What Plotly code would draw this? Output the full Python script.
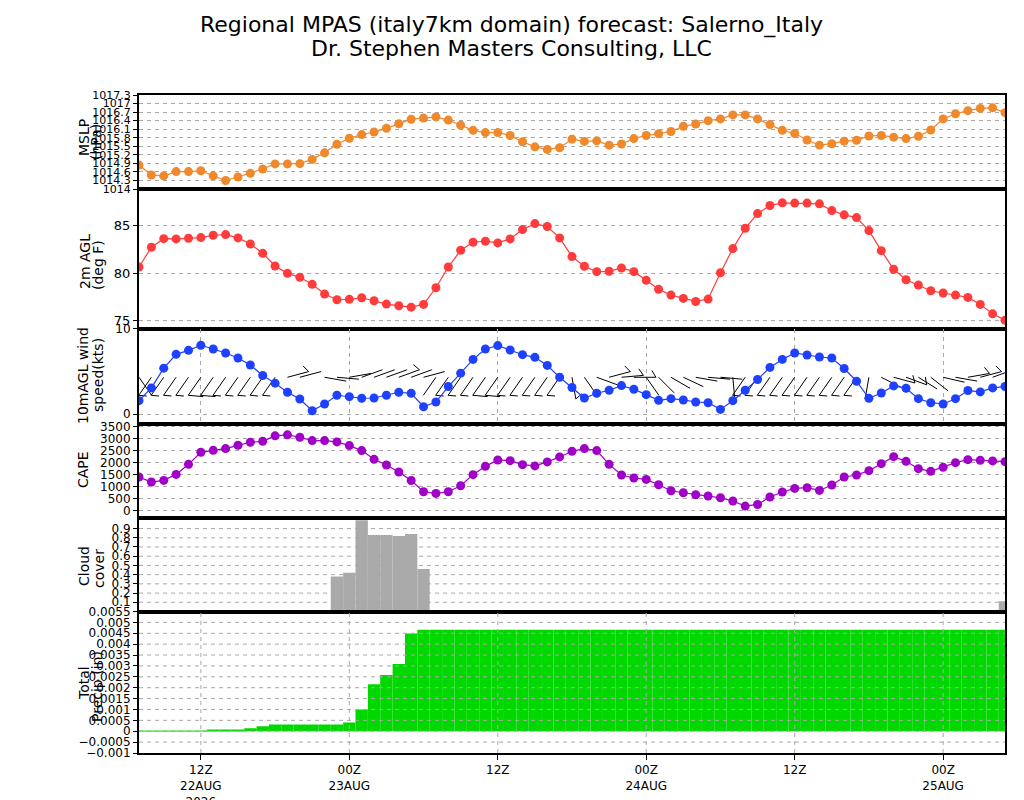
import math
import plotly.graph_objects as go

# ---------------- data (hours since 07Z 22AUG2026) ----------------
hours = list(range(71))

mslp = [1014.84, 1014.49, 1014.46, 1014.61, 1014.61, 1014.64, 1014.46, 1014.30, 1014.42, 1014.55,
        1014.70, 1014.88, 1014.88, 1014.89, 1015.04, 1015.27, 1015.57, 1015.78, 1015.91, 1016.00,
        1016.13, 1016.29, 1016.45, 1016.49, 1016.53, 1016.42, 1016.24, 1016.06, 1015.98, 1015.98,
        1015.88, 1015.66, 1015.48, 1015.39, 1015.45, 1015.75, 1015.67, 1015.69, 1015.54, 1015.58,
        1015.77, 1015.88, 1015.94, 1016.02, 1016.20, 1016.28, 1016.40, 1016.46, 1016.60, 1016.60,
        1016.46, 1016.26, 1016.06, 1015.95, 1015.72, 1015.54, 1015.59, 1015.68, 1015.71, 1015.86,
        1015.88, 1015.82, 1015.77, 1015.85, 1016.07, 1016.46, 1016.64, 1016.75, 1016.83, 1016.85,
        1016.68]

temp = [80.65, 82.74, 83.65, 83.62, 83.69, 83.76, 84.01, 84.08, 83.73, 83.09,
        82.10, 80.76, 79.98, 79.56, 78.82, 77.79, 77.19, 77.23, 77.40, 77.08,
        76.73, 76.55, 76.41, 76.70, 78.46, 80.65, 82.42, 83.27, 83.38, 83.20,
        83.62, 84.61, 85.24, 84.93, 83.73, 81.75, 80.73, 80.16, 80.20, 80.55,
        80.16, 79.24, 78.29, 77.68, 77.33, 77.01, 77.26, 80.05, 82.60, 84.75,
        86.30, 87.15, 87.44, 87.41, 87.41, 87.33, 86.62, 86.17, 85.88, 84.50,
        82.38, 80.41, 79.31, 78.74, 78.14, 77.90, 77.68, 77.44, 76.70, 75.70,
        75.03]

wspd = [1.57, 3.06, 5.37, 6.98, 7.45, 8.04, 7.61, 7.14, 6.55, 5.73,
        4.51, 3.61, 2.55, 1.76, 0.39, 1.18, 2.20, 2.04, 1.85, 1.88,
        2.20, 2.55, 2.43, 0.86, 1.41, 3.22, 4.78, 6.39, 7.61, 8.00,
        7.49, 6.94, 6.63, 5.69, 4.31, 3.10, 1.88, 2.43, 2.78, 3.33,
        2.90, 2.27, 1.61, 1.80, 1.65, 1.41, 1.33, 0.55, 1.57, 2.78,
        4.04, 5.45, 6.39, 7.14, 6.90, 6.67, 6.55, 5.33, 3.84, 1.84,
        2.47, 3.29, 3.02, 1.80, 1.33, 1.18, 1.80, 2.75, 2.59, 3.06,
        3.22]

wdir = [145, 215, 215, 215, 215, 215, 215, 215, 215, 215,
        215, 215, 75, 75, 80, 100, 95, 80, 70, 70,
        70, 70, 70, 75, 215, 215, 215, 215, 215, 215,
        215, 215, 215, 215, 215, 170, 145, 110, 75, 85,
        90, 145, 135, 120, 115, 100, 95, 95, 175, 215,
        215, 215, 215, 215, 215, 215, 215, 215, 215, 190,
        117, 105, 110, 122, 128, 103, 100, 80, 75, 70,
        70]

cape = [1409, 1200, 1268, 1518, 1937, 2439, 2522, 2593, 2731, 2857,
        2898, 3124, 3166, 3066, 2928, 2928, 2873, 2718, 2509, 2146,
        1911, 1618, 1262, 795, 724, 795, 1046, 1506, 1853, 2120,
        2091, 1924, 1870, 2037, 2246, 2480, 2593, 2509, 1937, 1493,
        1368, 1309, 1087, 836, 753, 669, 615, 544, 406, 197,
        264, 573, 782, 933, 962, 849, 1075, 1409, 1493, 1673,
        1966, 2258, 2062, 1757, 1644, 1811, 2008, 2133, 2104, 2079,
        2049]

cloud = [0, 0, 0, 0, 0, 0, 0, 0, 0, 0,
         0, 0, 0, 0, 0, 0, 0.38, 0.42, 0.99, 0.83,
         0.83, 0.82, 0.84, 0.46, 0, 0, 0, 0, 0, 0,
         0, 0, 0, 0, 0, 0, 0, 0, 0, 0,
         0, 0, 0, 0, 0, 0, 0, 0, 0, 0,
         0, 0, 0, 0, 0, 0, 0, 0, 0, 0,
         0, 0, 0, 0, 0, 0, 0, 0, 0, 0.01,
         0.11]

precip = [0.00003, 0.00003, 0.00003, 0.00003, 0.00003, 0.00003, 0.00008, 0.00008, 0.00008, 0.00014,
          0.00023, 0.00031, 0.00031, 0.00031, 0.00031, 0.00031, 0.00031, 0.0004, 0.001, 0.00216,
          0.00258, 0.00309, 0.00449] + [0.00466] * 48

tick_hours = [5, 17, 29, 41, 53, 65]
tick_text = ["12Z<br>22AUG<br>2026", "00Z<br>23AUG", "12Z", "00Z<br>24AUG", "12Z", "00Z<br>25AUG"]

mslp_ticks = [1014.0, 1014.3, 1014.6, 1014.9, 1015.2, 1015.5, 1015.8, 1016.1, 1016.4, 1016.7, 1017.0, 1017.3]
temp_ticks = [75, 80, 85]
wind_ticks = [0, 10]
cape_ticks = [0, 500, 1000, 1500, 2000, 2500, 3000, 3500]
cloud_ticks = [0.1, 0.2, 0.3, 0.4, 0.5, 0.6, 0.7, 0.8, 0.9]
precip_ticks = [-0.001, -0.0005, 0, 0.0005, 0.001, 0.0015, 0.002, 0.0025, 0.003, 0.0035,
                0.004, 0.0045, 0.005, 0.0055]

# ---------------- layout geometry (reference pixel coords) ----------------
OFF = 8                      # page body margin
W, H = 1024 - OFF, 800 - OFF
L, R, T, B = 139, 1005, 95, 753
edges = [95, 189, 328.5, 423.5, 517.5, 611.5, 753]
def py(p):
    return (B - p) / (B - T)
def px(p):
    return (p - L) / (R - L)

ranges = [[1014.0, 1017.3], [74.15, 88.9], [-1.1, 10], [-280, 3640], [0, 1.02], [-0.001, 0.0055]]
FONT = "DejaVu Sans"
GRID = "#A8A8A8"
DASH = "4px,4px"

def fmt(v):
    s = f"{v:g}"
    return s.replace("-", "\u2212")

fig = go.Figure()

# ---------------- wind barbs ----------------
px_hr = (R - L) / 70.0
px_kt = (edges[3] - edges[2]) / (ranges[2][1] - ranges[2][0])
station = 4.3
staff = 22.0
bx, by = [], []
for h, s, d in zip(hours, wspd, wdir):
    if s < 0.5:
        continue
    a = math.radians(d)
    ux, uy = math.sin(a), math.cos(a)
    tx, ty = staff * ux, staff * uy
    bx += [h, h + tx / px_hr, None]
    by += [station, station + ty / px_kt, None]
    if s >= 2.5:
        flen = 15.0 if s >= 7.5 else 8.0
        rot = math.radians(120)
        fx = ux * math.cos(rot) - uy * math.sin(rot)
        fy = ux * math.sin(rot) + uy * math.cos(rot)
        bx += [h + tx / px_hr, h + (tx + flen * fx) / px_hr, None]
        by += [station + ty / px_kt, station + (ty + flen * fy) / px_kt, None]

fig.add_trace(go.Scatter(x=bx, y=by, mode="lines", line=dict(color="black", width=1),
                         xaxis="x3", yaxis="y3", hoverinfo="skip"))

def line_trace(y, color, ax):
    return go.Scatter(x=hours, y=y, mode="lines+markers",
                      line=dict(color=color, width=1.2),
                      marker=dict(color=color, size=9),
                      xaxis="x" + ax, yaxis="y" + ax)

fig.add_trace(line_trace(mslp, "#F0882C", ""))
fig.add_trace(line_trace(temp, "#FF3B3B", "2"))
fig.add_trace(line_trace(wspd, "#1E40FF", "3"))
fig.add_trace(line_trace(cape, "#A000C8", "4"))
fig.add_trace(go.Bar(x=hours, y=cloud, width=1, marker=dict(color="#AAAAAA", line=dict(width=0)),
                     xaxis="x5", yaxis="y5"))
fig.add_trace(go.Bar(x=hours, y=precip, width=1, marker=dict(color="#00D800", line=dict(width=0)),
                     xaxis="x6", yaxis="y6"))

ytick_sets = [mslp_ticks, temp_ticks, wind_ticks, cape_ticks, cloud_ticks, precip_ticks]
layout = dict(width=W, height=H, showlegend=False, plot_bgcolor="white", paper_bgcolor="white",
              margin=dict(l=L - OFF, r=W - (R - OFF), t=T - OFF, b=H - (B - OFF), autoexpand=False),
              font=dict(family=FONT, color="black"))

for k in range(6):
    sfx = "" if k == 0 else str(k + 1)
    top, bot = edges[k], edges[k + 1]
    xa = dict(range=[0, 70], domain=[0, 1], showline=True, mirror=True, linecolor="black",
              linewidth=2, tickvals=tick_hours, ticktext=tick_text, showticklabels=(k == 5),
              ticks="outside" if k == 5 else "", ticklen=5, tickcolor="black",
              showgrid=(k == 2), gridcolor=GRID, griddash=DASH, gridwidth=1, zeroline=False,
              automargin=False, tickfont=dict(size=12, family=FONT, color="black"))
    if k > 0:
        xa["matches"] = "x"
    ya = dict(range=ranges[k], domain=[py(bot), py(top)], showline=True, mirror=True,
              linecolor="black", linewidth=2, tickvals=ytick_sets[k],
              ticktext=[fmt(v) for v in ytick_sets[k]], ticks="outside", ticklen=4,
              tickcolor="black", showgrid=(k not in (4, 5)), gridcolor=GRID, griddash=DASH,
              gridwidth=1, zeroline=False, anchor="x" + sfx, automargin=False,
              tickfont=dict(size=13 if k == 1 else (11 if k == 0 else 12), family=FONT, color="black"))
    xa["anchor"] = "y" + sfx
    layout["xaxis" + sfx] = xa
    layout["yaxis" + sfx] = ya

fig.update_layout(**layout)

# gridlines above bars (cloud & precip panels)
shapes = []
for v in cloud_ticks:
    shapes.append(dict(type="line", xref="x5 domain", x0=0, x1=1, yref="y5", y0=v, y1=v,
                       line=dict(color=GRID, width=1, dash=DASH), layer="above"))
for v in precip_ticks[1:-1]:
    shapes.append(dict(type="line", xref="x6 domain", x0=0, x1=1, yref="y6", y0=v, y1=v,
                       line=dict(color=GRID, width=1, dash=DASH), layer="above"))
for h in tick_hours:
    shapes.append(dict(type="line", xref="x6", x0=h, x1=h, yref="y6 domain", y0=0, y1=1,
                       line=dict(color=GRID, width=1, dash=DASH), layer="above"))
fig.update_layout(shapes=shapes)

# titles
ann = [
    dict(text="Regional MPAS (italy7km domain) forecast: Salerno_Italy", x=px(511), y=py(25), size=22),
    dict(text="Dr. Stephen Masters Consulting, LLC", x=px(511), y=py(48), size=22),
]
annotations = []
for a in ann:
    annotations.append(dict(text=a["text"], x=a["x"], y=a["y"], xref="paper", yref="paper",
                            showarrow=False, xanchor="center", yanchor="middle",
                            font=dict(size=a["size"], family=FONT, color="black")))

ytitles = [
    ("MSLP", 84, 138), ("(hPa)", 96, 142),
    ("2m AGL", 85, 262), ("(deg F)", 98, 265),
    ("10mAGL wind", 83, 376), ("speed(kts)", 98, 375),
    ("CAPE", 83, 470),
    ("Cloud", 84, 566), ("cover", 99, 569),
    ("Total", 84, 683), ("Precip (in)", 97, 687),
]
for t, xx, yy in ytitles:
    annotations.append(dict(text=t, x=px(xx), y=py(yy), xref="paper", yref="paper",
                            showarrow=False, xanchor="center", yanchor="middle", textangle=-90,
                            font=dict(size=14, family=FONT, color="black")))
fig.update_layout(annotations=annotations)

fig.write_html("out.html")
